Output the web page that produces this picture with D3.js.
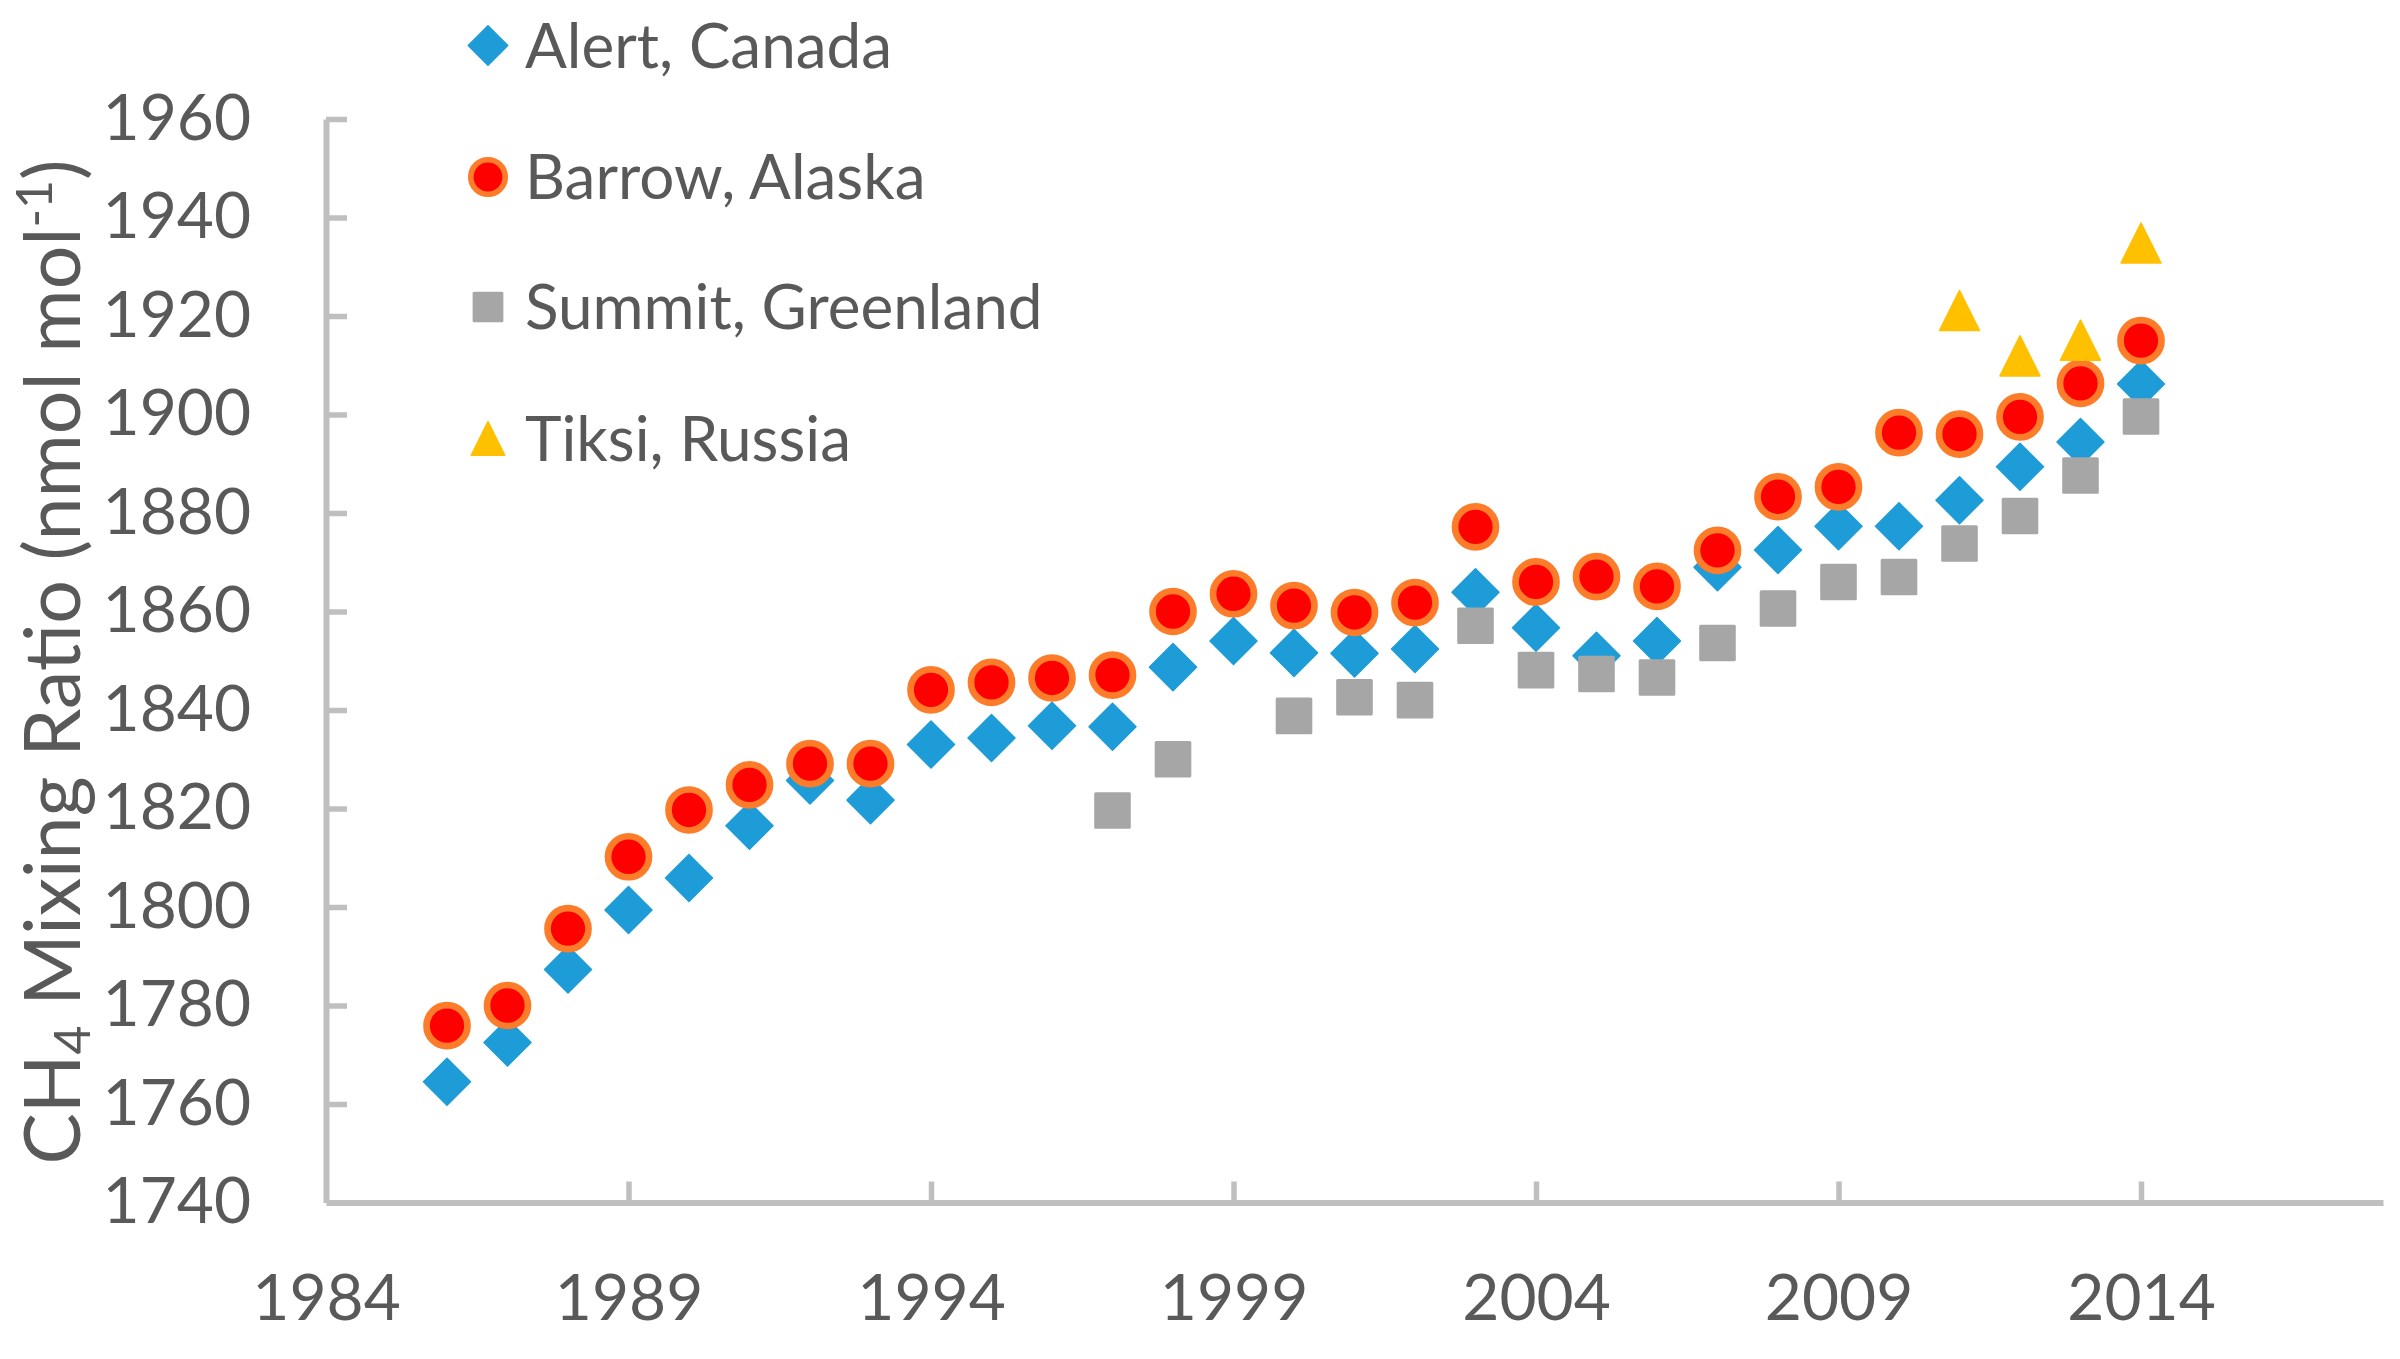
<!DOCTYPE html>
<html>
<head>
<meta charset="utf-8">
<script src="https://cdn.jsdelivr.net/npm/d3@7"></script>
<style>
  body { margin: 0; background: #fff; }
  text { font-family: Lato, "Open Sans", sans-serif; fill: #595959; }
</style>
</head>
<body>
<svg id="chart" width="2400" height="1359"></svg>
<script>
// CH4 at arctic stations, annual means
var years = d3.range(1986, 2015);
var alert = [1764.5, 1772.5, 1787.3, 1799.4, 1805.9, 1816.5, 1825.7, 1821.7, 1833.0, 1834.3,
  1836.8, 1836.6, 1848.7, 1854.0, 1851.6, 1851.5, 1852.4, 1863.9, 1856.7, 1851.0,
  1854.0, 1869.0, 1872.5, 1877.3, 1877.3, 1882.6, 1889.4, 1894.4, 1906.2];
var barrow = [1775.9, 1780.0, 1795.6, 1810.2, 1819.7, 1824.8, 1829.1, 1829.1, 1844.1, 1845.6,
  1846.5, 1847.1, 1860.0, 1863.6, 1861.2, 1859.8, 1861.8, 1877.2, 1866.0, 1867.1,
  1865.1, 1872.4, 1883.3, 1885.3, 1896.3, 1896.0, 1899.5, 1906.3, 1915.0];
var summitYears = [1997, 1998, 2000, 2001, 2002, 2003, 2004, 2005, 2006, 2007, 2008, 2009, 2010, 2011, 2012, 2013, 2014];
var summit = [1819.6, 1830.0, 1838.8, 1842.6, 1842.0, 1857.1, 1848.1, 1847.3, 1846.6, 1853.6,
  1860.6, 1866.0, 1867.0, 1873.8, 1879.4, 1887.6, 1899.6];
var tiksiYears = [2011, 2012, 2013, 2014];
var tiksi = [1921.1, 1911.9, 1915.1, 1934.8];

var xTicks = [1984, 1989, 1994, 1999, 2004, 2009, 2014];
var yTicks = [1740, 1760, 1780, 1800, 1820, 1840, 1860, 1880, 1900, 1920, 1940, 1960];
var seriesNames = ['Alert, Canada', 'Barrow, Alaska', 'Summit, Greenland', 'Tiksi, Russia'];

var svg = d3.select('#chart');

// not pretty to hard-code the plot box, but it lines up with the picture
var x = d3.scaleLinear().domain([1984, 2018]).range([326, 2383]);
var y = d3.scaleLinear().domain([1740, 1960]).range([1202.5, 119]);

var axisColor = '#bfbfbf';

var gx = svg.append('g')
  .attr('transform', 'translate(0,' + y(1740) + ')')
  .call(d3.axisBottom(x).tickValues(xTicks).tickFormat(d3.format('d'))
    .tickSizeInner(-21).tickSizeOuter(0).tickPadding(72));

var gy = svg.append('g')
  .attr('transform', 'translate(' + x(1984) + ',0)')
  .call(d3.axisLeft(y).tickValues(yTicks).tickFormat(d3.format('d'))
    .tickSizeInner(-21).tickSizeOuter(0).tickPadding(75));

[gx, gy].forEach(function(g) {
  g.select('.domain').attr('stroke', axisColor).attr('stroke-width', 6);
  g.selectAll('.tick line').attr('stroke', axisColor).attr('stroke-width', 5.5);
  g.selectAll('.tick text').style('font-size', '64px').attr('fill', '#595959');
});
gx.selectAll('.tick line').filter(function(d) { return d === 1984; }).remove();
gy.selectAll('.tick line').filter(function(d) { return d === 1740; }).remove();

// y title with CH4 subscript and mol-1 superscript
var title = svg.append('text')
  .attr('transform', 'translate(80,662) rotate(-90)')
  .attr('text-anchor', 'middle')
  .style('font-size', '77px');
title.append('tspan').text('CH');
title.append('tspan').text('4').style('font-size', '50px').attr('baseline-shift', '-10');
title.append('tspan').text(' Mixing Ratio (nmol mol');
title.append('tspan').text('-1').style('font-size', '50px').attr('baseline-shift', '28');
title.append('tspan').text(')');

// marker shapes, s = scale factor
var shapes = {
  diamond: function(g, s) {
    var h = 23.5 * s;
    g.append('path').attr('d', 'M0,' + (-h) + 'L' + h + ',0L0,' + h + 'L' + (-h) + ',0Z')
      .attr('fill', '#1e9cd8').attr('stroke', '#1e9cd8').attr('stroke-width', 1.5).attr('stroke-linejoin', 'round');
  },
  circle: function(g, s) {
    g.append('circle').attr('r', 20.5 * s)
      .attr('fill', '#ff0000').attr('stroke', '#fd7c2a').attr('stroke-width', 6.7 * s);
  },
  square: function(g, s) {
    var h = 18.3 * s;
    g.append('rect').attr('x', -h).attr('y', -h).attr('width', 2 * h).attr('height', 2 * h)
      .attr('rx', 1.5).attr('fill', '#a6a6a6');
  },
  triangle: function(g, s) {
    var h = 20 * s;
    g.append('path').attr('d', 'M0,' + (-h) + 'L' + h + ',' + h + 'L' + (-h) + ',' + h + 'Z')
      .attr('fill', '#ffc000').attr('stroke', '#ffc000').attr('stroke-width', 1.5).attr('stroke-linejoin', 'round');
  }
};

var series = [
  { xs: years, ys: alert, shape: 'diamond' },
  { xs: years, ys: barrow, shape: 'circle' },
  { xs: summitYears, ys: summit, shape: 'square' },
  { xs: tiksiYears, ys: tiksi, shape: 'triangle' }
];

series.forEach(function(sr) {
  var pts = sr.xs.map(function(yr, i) { return [yr, sr.ys[i]]; });
  svg.append('g').selectAll('g')
    .data(pts)
    .enter()
    .append('g')
    .attr('transform', function(d) { return 'translate(' + x(d[0]) + ',' + y(d[1]) + ')'; })
    .each(function() { shapes[sr.shape](d3.select(this), 1); });
});

// legend, top left
var legRows = [45.5, 177, 307, 438.5];
series.forEach(function(sr, i) {
  var lg = svg.append('g').attr('transform', 'translate(488,' + legRows[i] + ')');
  shapes[sr.shape](lg, 0.84);
  lg.append('text').attr('x', 37).attr('y', 22)
    .style('font-size', '62px')
    .text(seriesNames[i]);
});
</script>
</body>
</html>
